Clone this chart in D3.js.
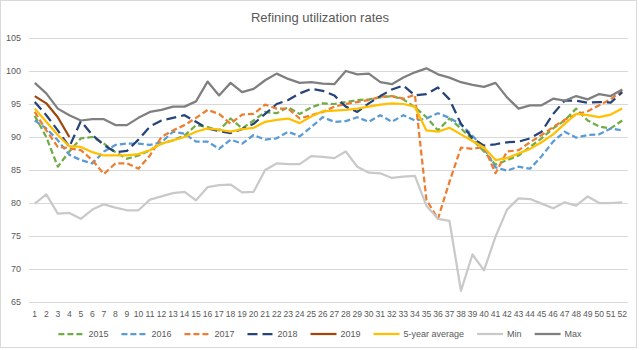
<!DOCTYPE html>
<html>
<head>
<meta charset="utf-8">
<script src="https://cdn.jsdelivr.net/npm/d3@7"></script>
<style>
  html, body { margin: 0; padding: 0; background: #fff; }
  svg text { font-family: 'Liberation Sans', Arial, sans-serif; fill: #595959; }
</style>
</head>
<body>
<svg id="chart" width="640" height="350"></svg>
<script>
(function () {
  'use strict';

  // ── Data (weekly refinery utilization, %) ─────────────────────────────────
  const weeks = [1, 2, 3, 4, 5, 6, 7, 8, 9, 10, 11, 12, 13, 14, 15, 16, 17, 18, 19, 20,
    21, 22, 23, 24, 25, 26, 27, 28, 29, 30, 31, 32, 33, 34, 35, 36, 37, 38, 39, 40,
    41, 42, 43, 44, 45, 46, 47, 48, 49, 50, 51, 52];
  const yTicks = [65, 70, 75, 80, 85, 90, 95, 100, 105];

  const s2015 = [93.2, 90.0, 85.5, 87.8, 89.8, 90.0, 89.0, 87.7, 86.7, 87.2, 88.0, 89.0, 89.5, 90.2,
    91.8, 91.5, 91.0, 92.8, 91.3, 92.5, 93.8, 93.6, 94.5, 93.5, 94.5, 95.1, 95.0, 95.3, 95.6, 95.7,
    96.0, 96.2, 95.7, 94.5, 93.0, 91.0, 92.8, 91.3, 89.6, 87.8, 85.8, 86.5, 87.2, 88.5, 89.8, 91.3,
    92.5, 94.3, 92.5, 91.6, 91.3, 92.5];
  const s2016 = [92.5, 91.3, 89.5, 87.3, 86.5, 86.0, 87.8, 88.8, 89.0, 89.0, 88.8, 89.2, 90.8, 90.5,
    89.3, 89.3, 88.2, 89.6, 89.0, 90.3, 89.6, 89.8, 90.8, 90.1, 91.5, 93.0, 92.3, 92.4, 93.0, 92.3,
    93.3, 92.3, 93.3, 92.5, 92.8, 93.6, 92.9, 91.9, 90.2, 88.3, 85.4, 84.9, 85.5, 85.2, 87.1, 89.3,
    90.8, 89.9, 90.3, 90.4, 91.3, 91.0];
  const s2017 = [93.8, 91.0, 88.5, 88.3, 88.0, 86.5, 84.4, 86.0, 86.0, 85.2, 87.2, 90.0, 91.0, 91.8,
    92.9, 94.1, 93.5, 92.0, 93.4, 93.5, 94.9, 94.3, 94.3, 92.8, 93.3, 93.8, 94.6, 95.0, 95.3, 95.6,
    96.1, 96.2, 95.8, 96.4, 80.5, 77.6, 83.2, 88.4, 88.2, 88.5, 84.5, 87.8, 88.0, 89.2, 90.3, 91.5,
    92.6, 93.4, 93.9, 94.8, 95.7, 97.1];
  const s2018 = [95.3, 93.3, 91.0, 88.5, 92.4, 90.3, 88.8, 87.7, 87.9, 89.6, 91.6, 92.5, 92.9, 93.3,
    92.3, 91.3, 90.9, 90.6, 91.2, 92.0, 93.5, 95.0, 95.6, 96.6, 97.3, 97.0, 96.3, 94.6, 93.8, 95.1,
    96.2, 97.2, 97.8, 96.3, 96.5, 97.5, 95.7, 92.0, 89.8, 88.7, 88.9, 89.2, 89.3, 89.8, 90.8, 93.5,
    95.5, 95.5, 95.2, 95.3, 95.2, 96.8];
  const s2019 = [96.2, 95.1, 93.0, 90.0];
  const avg5y = [94.3, 92.3, 90.3, 88.6, 88.5, 87.7, 87.2, 87.2, 87.2, 87.4, 88.0, 89.0, 89.5, 90.0,
    90.8, 91.3, 91.1, 90.8, 91.2, 91.4, 92.3, 92.6, 92.8, 92.1, 93.1, 93.9, 94.0, 94.1, 94.3, 94.6,
    94.9, 95.1, 95.0, 94.6, 91.0, 90.8, 91.4, 90.4, 89.4, 88.4, 86.5, 86.8, 87.5, 88.2, 89.2, 90.4,
    92.0, 93.5, 93.3, 93.0, 93.4, 94.3];
  const minVals = [79.9, 81.3, 78.4, 78.5, 77.6, 79.0, 79.8, 79.3, 78.9, 78.9, 80.5, 81.0, 81.5, 81.7,
    80.4, 82.4, 82.7, 82.8, 81.6, 81.7, 85.0, 86.0, 85.9, 85.9, 87.1, 87.0, 86.8, 87.8, 85.5, 84.6,
    84.5, 83.8, 84.0, 84.1, 79.6, 77.6, 77.3, 66.7, 72.2, 69.8, 74.9, 79.0, 80.7, 80.6, 79.9, 79.2,
    80.1, 79.6, 81.0, 80.0, 80.0, 80.1];
  const maxVals = [98.2, 96.6, 94.3, 93.3, 92.5, 92.7, 92.7, 91.8, 91.8, 92.9, 93.8, 94.1, 94.6, 94.6,
    95.4, 98.4, 96.3, 98.2, 96.8, 97.3, 98.6, 99.6, 98.8, 98.2, 98.3, 98.1, 98.0, 100.0, 99.5, 99.6,
    98.3, 98.0, 99.0, 99.8, 100.4, 99.5, 99.0, 98.3, 97.9, 97.6, 98.2, 96.0, 94.3, 94.8, 94.8, 95.8,
    95.5, 96.2, 95.7, 96.5, 96.2, 97.2];

  // Drawing order follows the legend; later series sit on top
  const series = [
    { name: '2015', values: s2015, color: '#70ad47', dash: '6,3' },
    { name: '2016', values: s2016, color: '#5b9bd5', dash: '6,3' },
    { name: '2017', values: s2017, color: '#ed7d31', dash: '6,3' },
    { name: '2018', values: s2018, color: '#264478', dash: '10,5' },
    { name: '2019', values: s2019, color: '#9e480e', dash: null },
    { name: '5-year average', values: avg5y, color: '#ffc000', dash: null },
    { name: 'Min', values: minVals, color: '#c9c9c9', dash: null },
    { name: 'Max', values: maxVals, color: '#7f7f7f', dash: null }
  ];

  const W = 640, H = 350;
  const svg = d3.select('#chart');

  // Chart border
  svg.append('rect')
    .attr('x', 0.5).attr('y', 0.5)
    .attr('width', W - 4).attr('height', H - 3)
    .attr('fill', '#fff')
    .attr('stroke', '#d9d9d9');

  // Title
  svg.append('text')
    .attr('x', 320).attr('y', 22)
    .attr('text-anchor', 'middle')
    .style('font-size', '13px')
    .text('Refining utilization rates');

  const x = d3.scaleBand().domain(weeks).range([29, 628]);
  const y = d3.scaleLinear().domain([65, 105]).range([302, 38]);
  const cx = w => x(w) + x.bandwidth() / 2;

  // ── Gridlines + y labels ──────────────────────────────────────────────────
  svg.append('g')
    .attr('transform', 'translate(29,0)')
    .call(d3.axisLeft(y).tickValues(yTicks).tickSize(-599).tickPadding(8))
    .call(ax => ax.select('.domain').remove())
    .call(ax => ax.selectAll('.tick line').attr('stroke', '#d9d9d9'))
    .call(ax => ax.selectAll('.tick text').style('font-size', '9px').attr('fill', '#595959'));

  // ── x labels ──────────────────────────────────────────────────────────────
  svg.append('g')
    .attr('transform', 'translate(0,302)')
    .call(d3.axisBottom(x).tickSize(0).tickPadding(9))
    .call(ax => ax.select('.domain').remove())
    .call(ax => ax.selectAll('.tick text').style('font-size', '8.6px').attr('fill', '#595959'));

  // ── Lines ─────────────────────────────────────────────────────────────────
  const line = d3.line()
    .x((v, i) => cx(weeks[i]))
    .y(v => y(v));

  series.forEach(s => {
    svg.append('path')
      .datum(s.values)
      .attr('d', line)
      .attr('fill', 'none')
      .attr('stroke', s.color)
      .attr('stroke-width', 2.25)
      .attr('stroke-linejoin', 'round')
      .attr('stroke-dasharray', s.dash);
  });

  // ── Legend (centred below the axis) ───────────────────────────────────────
  const legend = svg.append('g');
  const swatch = 26, gap = 4, spacing = 13, ly = 334;
  let lx = 0;
  series.forEach(s => {
    const item = legend.append('g').attr('transform', `translate(${lx},0)`);
    item.append('line')
      .attr('x1', 0).attr('x2', swatch)
      .attr('y1', ly).attr('y2', ly)
      .attr('stroke', s.color)
      .attr('stroke-width', 2.25)
      .attr('stroke-dasharray', s.dash);
    const t = item.append('text')
      .attr('x', swatch + gap).attr('y', ly)
      .attr('dy', '0.35em')
      .style('font-size', '9px')
      .text(s.name);
    lx += swatch + gap + t.node().getComputedTextLength() + spacing;
  });
  legend.attr('transform', `translate(${(W - (lx - spacing)) / 2},0)`);
})();
</script>
</body>
</html>
